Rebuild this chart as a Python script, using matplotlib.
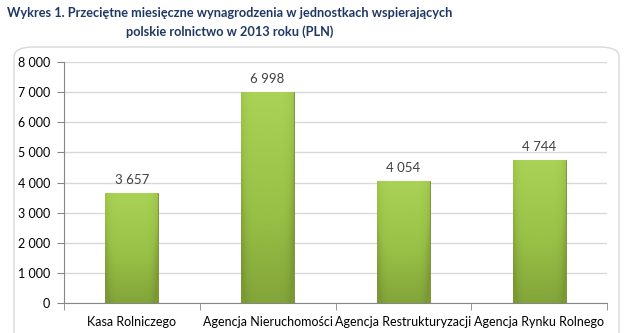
import numpy as np
import matplotlib.pyplot as plt
from matplotlib.patches import FancyBboxPatch
from matplotlib.colors import LinearSegmentedColormap

categories = ["Kasa Rolniczego\nUbezpieczenia Społecznego",
              "Agencja Nieruchomości\nRolnych",
              "Agencja Restrukturyzacji\ni Modernizacji Rolnictwa",
              "Agencja Rynku Rolnego"]
values = [3657, 6998, 4054, 4744]
value_labels = ["3 657", "6 998", "4 054", "4 744"]
y_ticks = [0, 1000, 2000, 3000, 4000, 5000, 6000, 7000, 8000]
y_tick_labels = ["0", "1 000", "2 000", "3 000", "4 000", "5 000", "6 000", "7 000", "8 000"]

plt.rcParams["font.family"] = ["Lato", "DejaVu Sans"]

W, H = 632, 333
fig = plt.figure(figsize=(W / 100, H / 100), dpi=100)

# chart frame with rounded corners, behind the axes
frame = FancyBboxPatch((14 / W, -20 / H), 605 / W, (H - 47 + 20) / H,
                       boxstyle="round,pad=0,rounding_size=0.03",
                       transform=fig.transFigure, facecolor="white",
                       edgecolor="#D9D9D9", linewidth=1.0, zorder=-5)
fig.patches.append(frame)

fig.text(230 / W, 1 - 13 / H,
         "Wykres 1. Przeciętne miesięczne wynagrodzenia w jednostkach wspierających",
         ha="center", va="center", fontsize=9.2, fontweight="bold", color="#1F3864")
fig.text(230 / W, 1 - 32 / H, "polskie rolnictwo w 2013 roku (PLN)",
         ha="center", va="center", fontsize=9.2, fontweight="bold", color="#1F3864")

left, right, top, bottom = 64, 607, 62, 303
ax = fig.add_axes([left / W, 1 - bottom / H, (right - left) / W, (bottom - top) / H])
ax.patch.set_alpha(0)

x = np.arange(len(categories))
bars = ax.bar(x, values, width=0.39, color="#94BA45", zorder=3)

# gradient fill for bars
cmap = LinearSegmentedColormap.from_list("g", ["#7A9934", "#98C046", "#AAD256"])
for b in bars:
    bx, by = b.get_x(), b.get_y()
    bw, bh = b.get_width(), b.get_height()
    yy = np.linspace(0, 1, 100)[:, None]
    xx = np.linspace(-1, 1, 40)[None, :]
    grad = yy * 0.85 + 0.15 - 0.35 * np.abs(xx) ** 6
    im = ax.imshow(grad, extent=(bx, bx + bw, by, by + bh), origin="lower",
                   cmap=cmap, vmin=0, vmax=1, aspect="auto", zorder=4)
    im.set_clip_path(b)
    b.set_edgecolor("#6F8C2C")
    b.set_linewidth(0.6)

for xi, v, lab in zip(x, values, value_labels):
    ax.text(xi, v + 230, lab, ha="center", va="bottom", fontsize=9.5, color="#404040")

ax.set_xlim(-0.5, len(categories) - 0.5)
ax.set_ylim(0, 8000)
ax.set_yticks(y_ticks)
ax.set_yticklabels(y_tick_labels, fontsize=9, color="#000000")
ax.set_xticks(x)
ax.set_xticklabels(categories, fontsize=9, color="#000000", linespacing=1.6)
ax.set_xticks(np.arange(-0.5, len(categories)), minor=True)
ax.tick_params(axis="x", which="major", length=0, pad=9)
ax.tick_params(axis="x", which="minor", length=5, color="#868686")
ax.tick_params(axis="y", length=5, color="#868686", pad=5)
ax.grid(axis="y", color="#D9D9D9", linewidth=1.0, zorder=0)
for s in ["top", "right"]:
    ax.spines[s].set_visible(False)
for s in ["left", "bottom"]:
    ax.spines[s].set_color("#868686")
ax.set_axisbelow(True)

fig.savefig("out.png", dpi=100)
